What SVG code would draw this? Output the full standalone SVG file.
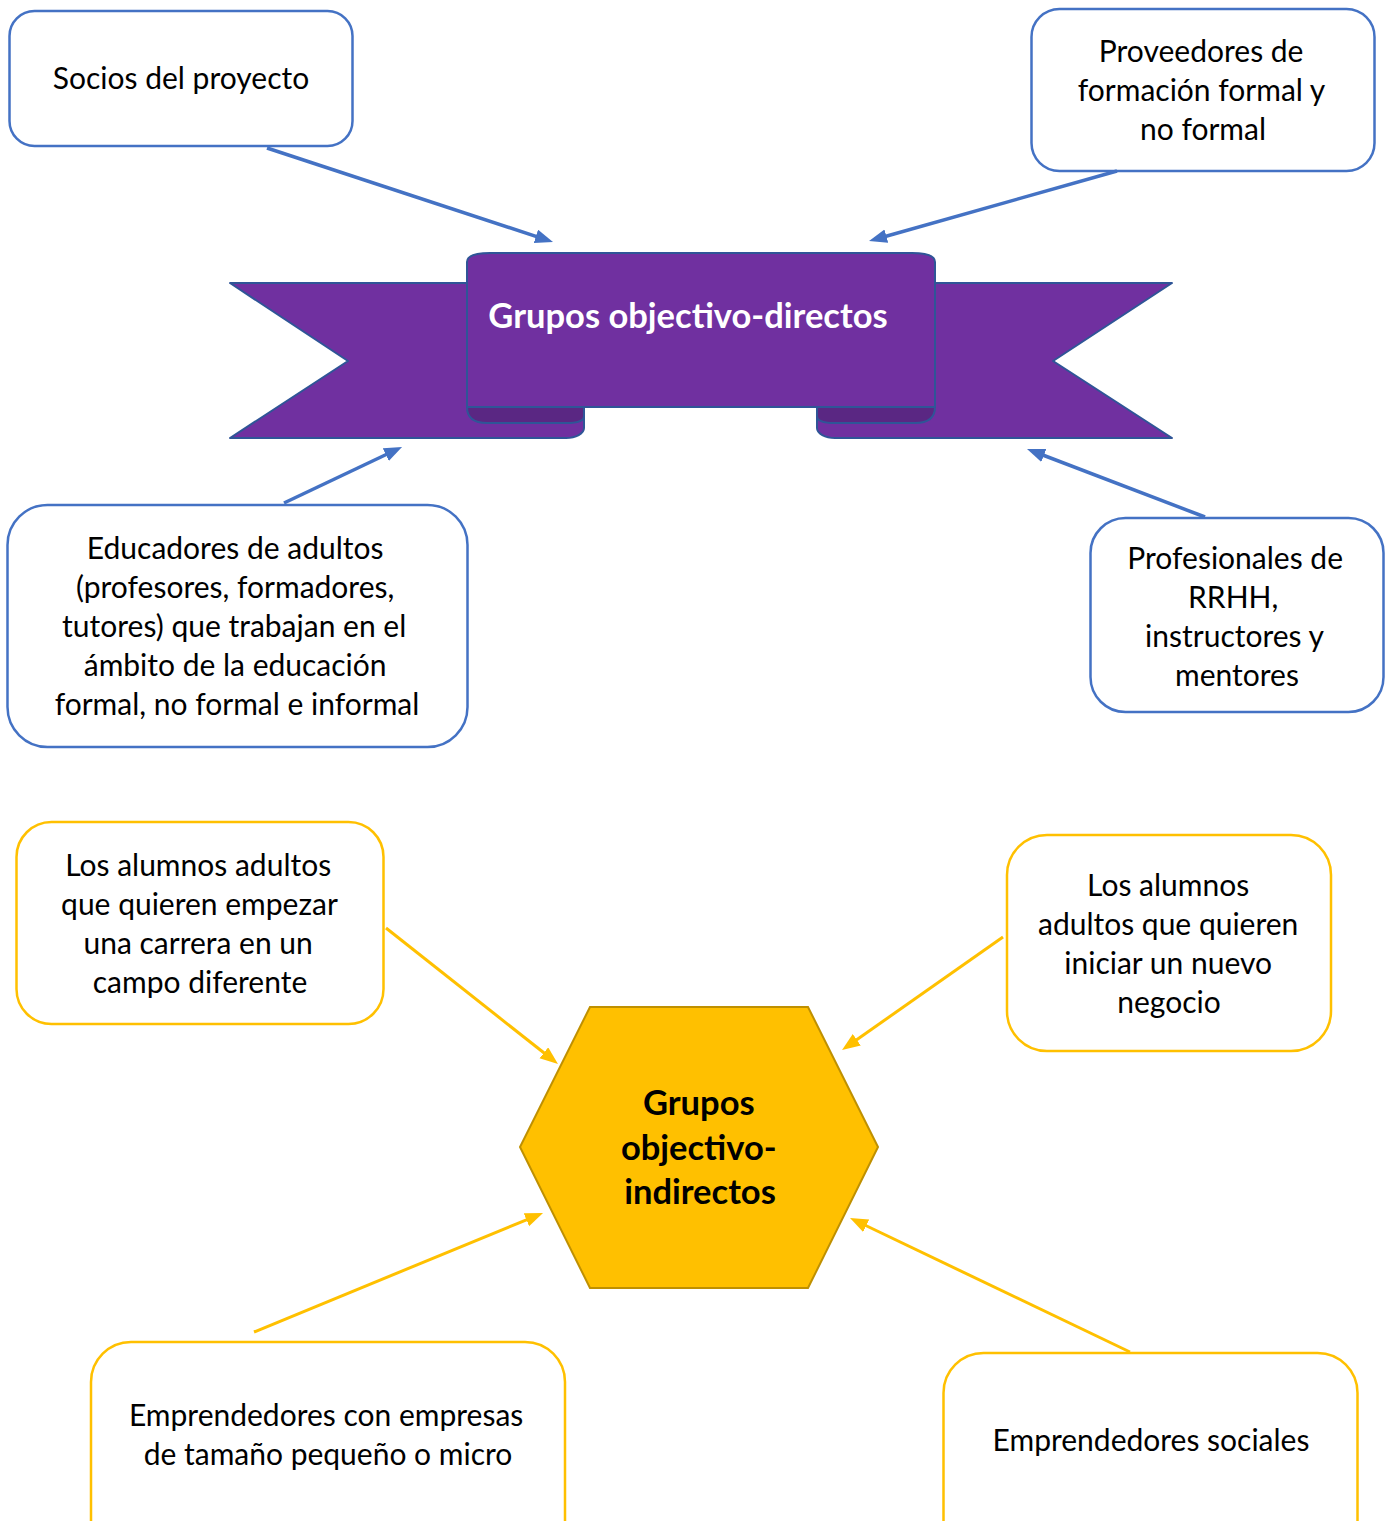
<svg xmlns="http://www.w3.org/2000/svg" width="1389" height="1521" viewBox="0 0 1389 1521">
  <style>
    .box-blue { fill: #ffffff; stroke: #4472C4; stroke-width: 2.5; }
    .box-gold { fill: #ffffff; stroke: #FFC000; stroke-width: 2.5; }
    .label { font-family: Lato, "Open Sans", sans-serif; font-size: 30px; fill: #000000; text-anchor: middle; }
    .title { font-family: Lato, "Open Sans", sans-serif; font-weight: bold; font-size: 34.5px; text-anchor: middle; }
    .ribbon { fill: #7030A0; stroke: #2F5597; stroke-width: 2; stroke-linejoin: round; }
    .fold { fill: #5A2783; stroke: #2F5597; stroke-width: 2; stroke-linejoin: round; }
    .link-blue { stroke: #4472C4; stroke-width: 3.5; fill: none; marker-end: url(#head-blue); }
    .link-gold { stroke: #FFC000; stroke-width: 3; fill: none; marker-end: url(#head-gold); }
  </style>
  <defs>
    <marker id="head-blue" markerUnits="userSpaceOnUse" markerWidth="20" markerHeight="16" refX="4" refY="7" orient="auto">
      <path d="M0,0 L18,7 L0,14 Z" fill="#4472C4"/>
    </marker>
    <marker id="head-gold" markerUnits="userSpaceOnUse" markerWidth="20" markerHeight="16" refX="4" refY="7" orient="auto">
      <path d="M0,0 L18,7 L0,14 Z" fill="#FFC000"/>
    </marker>
  </defs>

  <rect width="1389" height="1521" fill="#ffffff"/>

  <!-- Direct target groups: ribbon banner -->
  <g id="direct-groups">
    <path class="ribbon" d="M230,283 H584 V428 A18,10 0 0 1 566,438 H230 L348,361 Z"/>
    <path class="ribbon" d="M1172,283 H817 V428 A18,10 0 0 0 835,438 H1172 L1053,361 Z"/>
    <path class="fold" d="M467,407 H584 V416 Q584,423 566,423 H487 Q467,423 467,407 Z"/>
    <path class="fold" d="M817,407 H935 Q935,423 915,423 H835 Q817,423 817,416 Z"/>
    <path class="ribbon" d="M467,407 V262 Q467,253 490,253 H912 Q935,253 935,262 V407 Z"/>
    <text class="title" x="688" y="328" fill="#ffffff">Grupos objectivo-directos</text>
  </g>

  <!-- Indirect target groups: hexagon -->
  <g id="indirect-groups">
    <polygon points="590,1007 808,1007 878,1147 808,1288 590,1288 520,1147" fill="#FFC000" stroke="#BF9000" stroke-width="2"/>
    <text class="title" x="699" fill="#000000">
      <tspan x="703" y="1115">Grupos</tspan>
      <tspan x="703" y="1160">objectivo-</tspan>
      <tspan x="700" y="1204">indirectos</tspan>
    </text>
  </g>

  <g id="socios">
    <rect class="box-blue" x="9.5" y="11" width="343" height="135" rx="25"/>
    <text class="label" x="181" y="89">Socios del proyecto</text>
  </g>

  <g id="proveedores">
    <rect class="box-blue" x="1031.5" y="9" width="343" height="162" rx="28"/>
    <text class="label">
      <tspan x="1205" y="62">Proveedores de</tspan>
      <tspan x="1205" y="101">formación formal y</tspan>
      <tspan x="1203" y="140">no formal</tspan>
    </text>
  </g>

  <g id="educadores">
    <rect class="box-blue" x="7.5" y="505" width="460" height="242" rx="40"/>
    <text class="label">
      <tspan x="239" y="559">Educadores de adultos</tspan>
      <tspan x="239" y="598">(profesores, formadores,</tspan>
      <tspan x="238" y="637">tutores) que trabajan en el</tspan>
      <tspan x="239" y="676">ámbito de la educación</tspan>
      <tspan x="237" y="715">formal, no formal e informal</tspan>
    </text>
  </g>

  <g id="profesionales">
    <rect class="box-blue" x="1090.5" y="518" width="293" height="194" rx="35"/>
    <text class="label">
      <tspan x="1239" y="569">Profesionales de</tspan>
      <tspan x="1237" y="608">RRHH,</tspan>
      <tspan x="1238" y="647">instructores y</tspan>
      <tspan x="1237" y="686">mentores</tspan>
    </text>
  </g>

  <g id="alumnos-carrera">
    <rect class="box-gold" x="16.5" y="822" width="367" height="202" rx="35"/>
    <text class="label">
      <tspan x="202" y="876">Los alumnos adultos</tspan>
      <tspan x="203" y="915">que quieren empezar</tspan>
      <tspan x="202" y="954">una carrera en un</tspan>
      <tspan x="200" y="993">campo diferente</tspan>
    </text>
  </g>

  <g id="alumnos-negocio">
    <rect class="box-gold" x="1007" y="835" width="324" height="216" rx="40"/>
    <text class="label">
      <tspan x="1172" y="896">Los alumnos</tspan>
      <tspan x="1172" y="935">adultos que quieren</tspan>
      <tspan x="1172" y="974">iniciar un nuevo</tspan>
      <tspan x="1169" y="1013">negocio</tspan>
    </text>
  </g>

  <g id="emprendedores-pyme">
    <rect class="box-gold" x="91" y="1342" width="474" height="220" rx="40"/>
    <text class="label">
      <tspan x="330" y="1426">Emprendedores con empresas</tspan>
      <tspan x="328" y="1465">de tamaño pequeño o micro</tspan>
    </text>
  </g>

  <g id="emprendedores-sociales">
    <rect class="box-gold" x="943.5" y="1353" width="414" height="210" rx="40"/>
    <text class="label" x="1151" y="1451">Emprendedores sociales</text>
  </g>

  <!-- Connectors -->
  <g id="connectors">
    <line class="link-blue" x1="267" y1="148" x2="539.7" y2="237.6"/>
    <line class="link-blue" x1="1117" y1="171" x2="882.5" y2="237.2"/>
    <line class="link-blue" x1="284" y1="503" x2="389.4" y2="453"/>
    <line class="link-blue" x1="1205" y1="517" x2="1040.1" y2="454"/>
    <line class="link-gold" x1="386" y1="928" x2="547" y2="1055.3"/>
    <line class="link-gold" x1="1003" y1="937" x2="853.5" y2="1042"/>
    <line class="link-gold" x1="254" y1="1332" x2="530.1" y2="1218.3"/>
    <line class="link-gold" x1="1130" y1="1352" x2="862.6" y2="1224"/>
  </g>
</svg>
